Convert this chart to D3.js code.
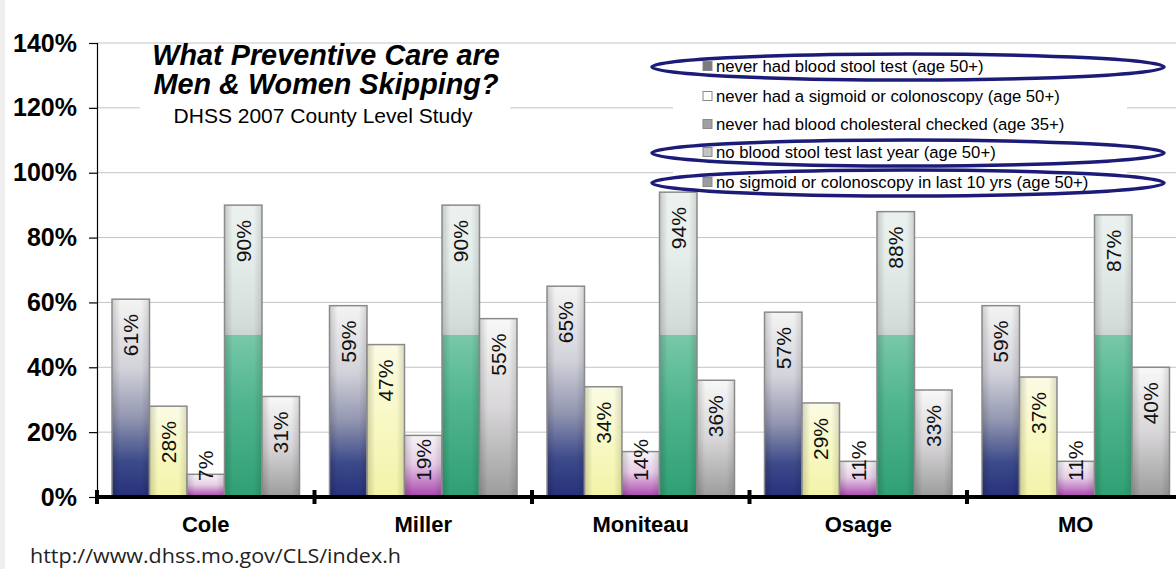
<!DOCTYPE html>
<html>
<head>
<meta charset="utf-8">
<script src="https://cdn.jsdelivr.net/npm/d3@7"></script>
<style>
  html, body { margin: 0; padding: 0; background: #fff; }
  svg { display: block; }
</style>
</head>
<body>
<svg id="chart" width="1176" height="569"></svg>
<script>
// ---- data ----
const categories = ["Cole", "Miller", "Moniteau", "Osage", "MO"];
const seriesNames = [
  "never had blood stool test (age 50+)",
  "never had a sigmoid or colonoscopy (age 50+)",
  "never had blood cholesteral checked (age 35+)",
  "no blood stool test last year (age 50+)",
  "no sigmoid or colonoscopy in last 10 yrs  (age 50+)"
];
const neverBloodStool   = [61, 59, 65, 57, 59];
const neverSigmoid      = [28, 47, 34, 29, 37];
const neverCholesterol  = [7, 19, 14, 11, 11];
const noStoolLastYear   = [90, 90, 94, 88, 87];
const noSigmoid10yrs    = [31, 55, 36, 33, 40];
const yTicks = [0, 20, 40, 60, 80, 100, 120, 140];
const titleLines = ["What Preventive Care are", "Men & Women Skipping?"];
const subtitle = "DHSS 2007 County Level Study";
const sourceUrl = "http://www.dhss.mo.gov/CLS/index.h";
const circledSeries = [0, 3, 4];

const seriesValues = [neverBloodStool, neverSigmoid, neverCholesterol, noStoolLastYear, noSigmoid10yrs];

// ---- layout ----
const svg = d3.select("#chart");
const left = 97, bandW = 217.5;
const y = d3.scaleLinear().domain([0, 140]).range([497, 43]);
const x0 = d3.scaleBand().domain(categories).range([left, left + bandW * categories.length]).padding(0);
const x1 = d3.scaleBand().domain(d3.range(seriesNames.length)).range([0, x0.bandwidth()]).paddingInner(0).paddingOuter(0.4);

// ---- gradients ----
const defs = svg.append("defs");
function vGrad(id, stops, user) {
  const g = defs.append("linearGradient").attr("id", id)
    .attr("x1", 0).attr("x2", 0).attr("y1", 0).attr("y2", 1);
  if (user) {
    g.attr("gradientUnits", "userSpaceOnUse").attr("x1", 0).attr("x2", 0)
      .attr("y1", user[0]).attr("y2", user[1]);
  }
  stops.forEach(s => g.append("stop").attr("offset", s[0]).attr("stop-color", s[1]));
}
vGrad("g0", [[0, "#f4f4f4"], [0.35, "#d2d2da"], [0.6, "#9296b0"], [0.82, "#3c4a8a"], [1, "#26307a"]]);
vGrad("g1", [[0, "#fbfbe4"], [0.5, "#f8f8c4"], [1, "#f3f3a8"]]);
vGrad("g2", [[0, "#f6f3f6"], [0.45, "#e8cfe8"], [1, "#a844ac"]]);
// green band starts at 50%
vGrad("g3", [[0, "#eef3f1"], [0.25, "#e6eeeb"], [0.47, "#d4dcd9"], [0.5, "#cdd5d2"],
             [0.5, "#78c8a8"], [0.7, "#52b690"], [1, "#2f9f73"]], [y(100), y(0)]);
vGrad("g4", [[0, "#f8f8f8"], [0.5, "#d8d6d8"], [1, "#9c9c9c"]]);
const shade = defs.append("linearGradient").attr("id", "shade").attr("x1", 0).attr("x2", 1).attr("y1", 0).attr("y2", 0);
[[0, 0.28], [0.22, 0], [0.78, 0], [1, 0.22]].forEach(s =>
  shade.append("stop").attr("offset", s[0]).attr("stop-color", "#000").attr("stop-opacity", s[1]));

// ---- background border ----
svg.append("rect").attr("x", 0).attr("y", 0).attr("width", 5).attr("height", 569).attr("fill", "#efefef");

// ---- gridlines ----
svg.append("g").selectAll("line").data(yTicks.slice(1)).join("line")
  .attr("x1", left).attr("x2", 1176)
  .attr("y1", d => y(d)).attr("y2", d => y(d))
  .attr("stroke", "#c4c4c4").attr("stroke-width", 1);

// white boxes for title and legend
svg.append("rect").attr("x", 140).attr("y", 45).attr("width", 370).attr("height", 88).attr("fill", "#fff");
svg.append("rect").attr("x", 673).attr("y", 47).attr("width", 454).attr("height", 150).attr("fill", "#fff");

// ---- y axis ----
const yAxis = svg.append("g").attr("transform", `translate(${left},0)`)
  .call(d3.axisLeft(y).tickValues(yTicks).tickSize(8).tickFormat(d => d + "%"));
yAxis.select(".domain").attr("stroke", "#000").attr("stroke-width", 1.2);
yAxis.selectAll(".tick line").attr("stroke", "#000").attr("stroke-width", 1.2);
yAxis.selectAll(".tick text")
  .attr("x", -20)
  .attr("font-family", "Liberation Sans, Arial, sans-serif")
  .attr("font-size", 25).attr("font-weight", "bold").attr("fill", "#000");

// ---- bars ----
const groups = svg.append("g").selectAll("g").data(categories).join("g")
  .attr("transform", d => `translate(${x0(d)},0)`);

groups.each(function(cat, ci) {
  const g = d3.select(this);
  seriesValues.forEach((vals, si) => {
    const v = vals[ci];
    const bx = x1(si), bw = x1.bandwidth();
    g.append("rect").attr("x", bx).attr("y", y(v)).attr("width", bw).attr("height", y(0) - y(v))
      .attr("fill", `url(#g${si})`);
    g.append("rect").attr("x", bx).attr("y", y(v)).attr("width", bw).attr("height", y(0) - y(v))
      .attr("fill", "url(#shade)").attr("opacity", 0.6);
    g.append("rect").attr("x", bx).attr("y", y(v)).attr("width", bw).attr("height", y(0) - y(v))
      .attr("fill", "none").attr("stroke", "#8a8a8a").attr("stroke-width", 1.5);
  });
  seriesValues.forEach((vals, si) => {
    const v = vals[ci];
    const cx = x1(si) + x1.bandwidth() / 2;
    const t = g.append("text")
      .attr("font-family", "Liberation Sans, Arial, sans-serif")
      .attr("font-size", 21).attr("fill", "#111")
      .attr("text-anchor", "end").attr("dominant-baseline", "central")
      .text(v + "%");
    const len = t.node().getComputedTextLength();
    const top = Math.min(y(v) + 15, y(0) - 16 - len);
    t.attr("transform", `translate(${cx},${top}) rotate(-90)`);
  });
});

// ---- x axis ----
svg.append("line").attr("x1", left - 2).attr("x2", 1176).attr("y1", y(0)).attr("y2", y(0))
  .attr("stroke", "#000").attr("stroke-width", 4);
const bounds = categories.map(c => x0(c));
svg.append("g").selectAll("rect").data(bounds).join("rect")
  .attr("x", d => d - 2).attr("y", y(0) - 7).attr("width", 4).attr("height", 14).attr("fill", "#000");
const xAxis = svg.append("g").attr("transform", `translate(0,${y(0)})`)
  .call(d3.axisBottom(x0).tickSize(0));
xAxis.select(".domain").remove();
xAxis.selectAll(".tick text")
  .attr("y", 35).attr("dy", 0)
  .attr("font-family", "Liberation Sans, Arial, sans-serif")
  .attr("font-size", 22).attr("font-weight", "bold").attr("fill", "#000");

// ---- title ----
const tg = svg.append("g").attr("font-family", "Liberation Sans, Arial, sans-serif").attr("text-anchor", "middle");
tg.selectAll("text.t").data(titleLines).join("text").attr("class", "t")
  .attr("x", 326).attr("y", (d, i) => 65 + i * 29)
  .attr("font-size", 28.8).attr("font-weight", "bold").attr("font-style", "italic").attr("fill", "#000")
  .text(d => d);
tg.append("text").attr("x", 323).attr("y", 123).attr("font-size", 21).attr("fill", "#000").text(subtitle);

// ---- legend ----
const legY = [66, 96, 124, 152, 182];
const swatch = ["#7a7a7a", "#ffffff", "#a0a0a0", "#c4c4c4", "#9c9c9c"];
const lg = svg.append("g");
seriesNames.forEach((name, i) => {
  lg.append("rect").attr("x", 703).attr("y", legY[i] - 4.5).attr("width", 9).attr("height", 9)
    .attr("fill", swatch[i]).attr("stroke", "#888").attr("stroke-width", 1);
  lg.append("text").attr("x", 716).attr("y", legY[i]).attr("dominant-baseline", "central")
    .attr("font-family", "Liberation Sans, Arial, sans-serif").attr("font-size", 16.7).attr("fill", "#000")
    .text(name);
});
lg.selectAll("ellipse").data(circledSeries).join("ellipse")
  .attr("cx", 908).attr("cy", d => legY[d] + 1).attr("rx", 256).attr("ry", 13)
  .attr("fill", "none").attr("stroke", "#1c1c78").attr("stroke-width", 3.5);

// ---- source ----
svg.append("text").attr("x", 30).attr("y", 563)
  .attr("font-family", "Open Sans, Noto Sans, sans-serif").attr("font-size", 20).attr("fill", "#222")
  .attr("textLength", 371).attr("lengthAdjust", "spacingAndGlyphs")
  .text(sourceUrl);
</script>
</body>
</html>
